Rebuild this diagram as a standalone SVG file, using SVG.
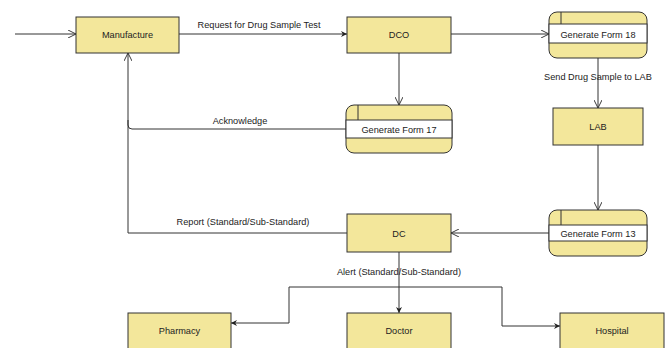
<svg xmlns="http://www.w3.org/2000/svg" width="671" height="348" viewBox="0 0 671 348">
<style>
.box{fill:#f3e79b;stroke:#333;stroke-width:1}
.band{fill:#fff;stroke:#333;stroke-width:1}
.ln{fill:none;stroke:#333;stroke-width:1}
text{font-family:"Liberation Sans",Arial,sans-serif;font-size:9.2px;fill:#222}
.c{text-anchor:middle}
</style>
<defs>
<marker id="open" viewBox="0 0 10 10" refX="10" refY="5" markerWidth="8" markerHeight="8" markerUnits="userSpaceOnUse" orient="auto">
<path d="M0,0 L10,5 L0,10" fill="none" stroke="#333" stroke-width="1.2"/>
</marker>
<marker id="fill" viewBox="0 0 10 10" refX="10" refY="5" markerWidth="6" markerHeight="6" markerUnits="userSpaceOnUse" orient="auto">
<path d="M0,0 L10,5 L0,10 L3,5 Z" fill="#222" stroke="none"/>
</marker>
</defs>
<rect width="671" height="348" fill="#fff"/>
<g id="connectors">
<path class="ln" d="M15,34 L76,34" marker-end="url(#open)"/>
<path class="ln" d="M179,34 L347,34" marker-end="url(#fill)"/>
<path class="ln" d="M451,34 L549,34" marker-end="url(#open)"/>
<path class="ln" d="M399,53 L399,105" marker-end="url(#open)"/>
<path class="ln" d="M598,58 L598,108" marker-end="url(#open)"/>
<path class="ln" d="M598,145 L598,210" marker-end="url(#open)"/>
<path class="ln" d="M549,233 L451,233" marker-end="url(#open)"/>
<path class="ln" d="M346,129 L132,129 Q128,129 128,125 L128,53" marker-end="url(#open)"/>
<path class="ln" d="M347,233 L128,233 L128,120"/>
<path class="ln" d="M399,252 L399,313" marker-end="url(#fill)"/>
<path class="ln" d="M399,287 L289,287 L289,323 L231,323" marker-end="url(#fill)"/>
<path class="ln" d="M399,287 L502,287 L502,326 L560,326" marker-end="url(#fill)"/>
<text class="c" x="259" y="28">Request for Drug Sample Test</text>
<text class="c" x="240" y="124">Acknowledge</text>
<text class="c" x="598" y="80">Send Drug Sample to LAB</text>
<text class="c" x="243" y="225">Report (Standard/Sub-Standard)</text>
<text class="c" x="399" y="275">Alert (Standard/Sub-Standard)</text>
</g>
<g id="manufacture">
<rect class="box" x="76" y="17" width="103" height="36"/>
<text class="c" x="127.5" y="38">Manufacture</text>
</g>
<g id="dco">
<rect class="box" x="347" y="17" width="104" height="36"/>
<text class="c" x="399" y="38">DCO</text>
</g>
<g id="form18">
<rect class="box" x="549" y="12" width="98" height="46" rx="8"/>
<rect class="band" x="549" y="24" width="98" height="19"/>
<line class="ln" x1="561" y1="12" x2="561" y2="24"/>
<text class="c" x="598" y="37.5">Generate Form 18</text>
</g>
<g id="form17">
<rect class="box" x="346" y="105" width="106" height="48" rx="8"/>
<rect class="band" x="346" y="120" width="106" height="18"/>
<line class="ln" x1="358" y1="105" x2="358" y2="120"/>
<text class="c" x="399" y="132.5">Generate Form 17</text>
</g>
<g id="lab">
<rect class="box" x="553" y="108" width="90" height="37"/>
<text class="c" x="598" y="130">LAB</text>
</g>
<g id="form13">
<rect class="box" x="549" y="210" width="98" height="46" rx="8"/>
<rect class="band" x="549" y="225" width="98" height="16"/>
<line class="ln" x1="561" y1="210" x2="561" y2="225"/>
<text class="c" x="598" y="236.5">Generate Form 13</text>
</g>
<g id="dc">
<rect class="box" x="347" y="214" width="104" height="38"/>
<text class="c" x="399" y="236.5">DC</text>
</g>
<g id="pharmacy">
<rect class="box" x="128" y="313" width="103" height="45"/>
<text class="c" x="179.5" y="334">Pharmacy</text>
</g>
<g id="doctor">
<rect class="box" x="347" y="313" width="104" height="45"/>
<text class="c" x="399" y="334">Doctor</text>
</g>
<g id="hospital">
<rect class="box" x="560" y="313" width="104" height="45"/>
<text class="c" x="612" y="334">Hospital</text>
</g>
</svg>
